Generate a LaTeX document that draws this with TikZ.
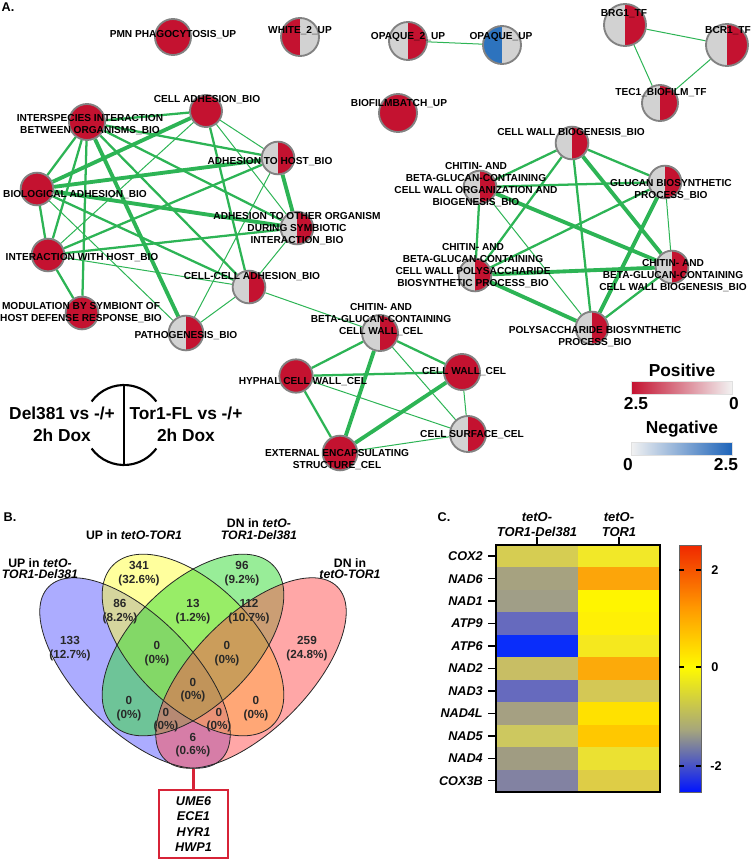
\documentclass[tikz,border=0pt]{standalone}
\usepackage{fontspec}
\setmainfont{Liberation Sans}
\usetikzlibrary{backgrounds}
\definecolor{nred}{RGB}{196,18,48}
\definecolor{ngrey}{RGB}{210,210,210}
\definecolor{nborder}{RGB}{130,130,130}
\definecolor{nblue}{RGB}{45,115,190}
\definecolor{egreen}{RGB}{45,180,85}
\definecolor{vblue}{RGB}{90,90,255}
\definecolor{vyellow}{RGB}{255,255,60}
\definecolor{vgreen}{RGB}{50,220,50}
\definecolor{vpink}{RGB}{255,80,80}
\definecolor{vtext}{RGB}{40,40,40}
\definecolor{boxred}{RGB}{215,35,55}
\definecolor{legblue}{RGB}{30,100,185}
\definecolor{legpale}{RGB}{242,242,242}
\definecolor{h0a}{RGB}{214,205,82}\definecolor{h0b}{RGB}{242,232,40}
\definecolor{h1a}{RGB}{166,162,128}\definecolor{h1b}{RGB}{252,165,10}
\definecolor{h2a}{RGB}{160,158,135}\definecolor{h2b}{RGB}{255,245,0}
\definecolor{h3a}{RGB}{102,106,190}\definecolor{h3b}{RGB}{255,240,5}
\definecolor{h4a}{RGB}{10,45,250}\definecolor{h4b}{RGB}{245,232,30}
\definecolor{h5a}{RGB}{200,190,100}\definecolor{h5b}{RGB}{252,170,10}
\definecolor{h6a}{RGB}{102,106,190}\definecolor{h6b}{RGB}{212,200,85}
\definecolor{h7a}{RGB}{165,160,130}\definecolor{h7b}{RGB}{255,225,0}
\definecolor{h8a}{RGB}{205,200,95}\definecolor{h8b}{RGB}{255,200,0}
\definecolor{h9a}{RGB}{160,156,130}\definecolor{h9b}{RGB}{235,225,50}
\definecolor{h10a}{RGB}{130,130,162}\definecolor{h10b}{RGB}{222,205,70}
\definecolor{cbred}{RGB}{240,40,0}
\definecolor{cborange}{RGB}{255,150,0}
\definecolor{cbyellow}{RGB}{255,250,0}
\definecolor{cbgrey}{RGB}{165,165,125}
\definecolor{cbblue}{RGB}{0,20,255}
\begin{document}
\begin{tikzpicture}[x=0.75pt,y=-0.75pt,
  netnode/.style={circle,inner sep=0pt,minimum size=#1,draw=nborder,line width=1.4pt,fill=ngrey},
  redfill/.style={fill=nred},
  halfR/.style={path picture={\fill[nred] (path picture bounding box.north) rectangle (path picture bounding box.south east);}},
  halfL/.style={path picture={\fill[nred] (path picture bounding box.north) rectangle (path picture bounding box.south west);}},
  blueL/.style={path picture={\fill[nblue] (path picture bounding box.north) rectangle (path picture bounding box.south west);}},
  lbl/.style={font=\fontsize{7.6}{9}\selectfont\bfseries,align=center,inner sep=0pt},
  ethin/.style={draw=egreen,line width=0.75pt},
  emed/.style={draw=egreen,line width=1.7pt},
  ethick/.style={draw=egreen,line width=2.9pt},
  plbl/.style={font=\fontsize{9.5}{11}\selectfont\bfseries,inner sep=0pt},
  leg/.style={font=\fontsize{13}{16.5}\selectfont\bfseries,align=center,inner sep=0pt},
  vlbl/.style={font=\fontsize{9.2}{8.8}\selectfont\bfseries,align=center,inner sep=0pt},
  vnum/.style={font=\fontsize{8.8}{10}\selectfont\bfseries,text=vtext,align=center,inner sep=0pt},
  hlbl/.style={font=\fontsize{9.5}{11}\selectfont\bfseries\itshape,inner sep=0pt},
  hhead/.style={font=\fontsize{9.7}{11.25}\selectfont\bfseries\itshape,align=center,inner sep=0pt},
  cbl/.style={font=\fontsize{9.5}{11}\selectfont\bfseries,inner sep=0pt},
  outerell/.style={x radius=122,y radius=57},
  innerell/.style={x radius=113,y radius=61}
]
\useasboundingbox (0,0) rectangle (750,860);

% ---------------- Panel A: nodes ----------------
\node[plbl] (pA) at (8,7) {A.};

\node[netnode=27pt,redfill] (pmn) at (173,37) {};
\node[netnode=28.5pt,halfL] (white) at (300,37) {};
\node[netnode=28.5pt,halfR] (opq2) at (408,41) {};
\node[netnode=28.5pt,blueL] (opq) at (502,45) {};
\node[netnode=31.5pt,halfR] (brg1) at (625,25) {};
\node[netnode=31.5pt,halfR] (bcr1) at (727,45) {};
\node[netnode=27pt,halfR] (tec1) at (660,103) {};
\node[netnode=28.5pt,redfill] (biofilm) at (398,113) {};

\node[netnode=24pt,redfill] (celladh) at (206,111) {};
\node[netnode=27pt,redfill] (inter) at (87,122) {};
\node[netnode=24.5pt,halfR] (adhhost) at (278,158) {};
\node[netnode=24.5pt,redfill] (bioadh) at (37,189) {};
\node[netnode=24.5pt,halfR] (adhother) at (297,228) {};
\node[netnode=24.5pt,redfill] (interhost) at (48,255) {};
\node[netnode=24.5pt,halfR] (cellcell) at (249,287) {};
\node[netnode=24.5pt,redfill] (modul) at (82,313) {};
\node[netnode=26pt,halfR] (patho) at (186,333) {};

\node[netnode=24.5pt,halfR] (cwb) at (572,143) {};
\node[netnode=24.5pt,halfR] (chorg) at (480,187) {};
\node[netnode=24.5pt,halfR] (glucan) at (665,182) {};
\node[netnode=24.5pt,halfR] (chpoly) at (475,275) {};
\node[netnode=24.5pt,halfR] (chbiog) at (672,267) {};
\node[netnode=24.5pt,halfR] (polys) at (592,328) {};

\node[netnode=27pt,halfR] (chcel) at (380,333) {};
\node[netnode=25pt,redfill] (hyphal) at (296,376) {};
\node[netnode=27pt,redfill] (cellwall) at (462,372) {};
\node[netnode=27pt,halfR] (cellsurf) at (468,434) {};
\node[netnode=26pt,redfill] (external) at (340,453) {};

% ---------------- Panel A: edges ----------------
\begin{scope}[on background layer]
\draw[ethin] (opq2) -- (opq);
\draw[ethin] (brg1) -- (bcr1);
\draw[ethin] (brg1) -- (tec1);
\draw[ethin] (bcr1) -- (tec1);
\foreach \a/\b/\s in {inter/celladh/emed, celladh/bioadh/ethick, celladh/interhost/ethin,
  celladh/adhhost/ethin, celladh/adhother/ethin, celladh/cellcell/emed,
  inter/adhhost/emed, inter/bioadh/emed, inter/interhost/emed, inter/modul/emed,
  inter/patho/ethick, inter/adhother/emed, inter/cellcell/emed,
  adhhost/bioadh/ethick, adhhost/interhost/emed, adhhost/adhother/ethick, adhhost/patho/ethin,
  bioadh/adhother/ethick, bioadh/interhost/emed, bioadh/cellcell/emed, bioadh/patho/ethin,
  interhost/adhother/emed, interhost/modul/emed, interhost/cellcell/ethin,
  adhother/cellcell/ethin, cellcell/patho/ethin, cellcell/chcel/ethin,
  cwb/chorg/emed, cwb/glucan/emed, cwb/chpoly/emed, cwb/polys/emed, cwb/chbiog/ethick,
  chorg/glucan/emed, chorg/chpoly/emed, chorg/chbiog/ethick, chorg/polys/ethin,
  glucan/chpoly/emed, glucan/chbiog/ethin, glucan/polys/ethick,
  chpoly/chbiog/ethick, chpoly/polys/ethick, chbiog/polys/emed,
  chcel/hyphal/emed, chcel/cellwall/emed, chcel/cellsurf/ethin, chcel/external/ethick,
  hyphal/cellwall/emed, hyphal/cellsurf/ethin, hyphal/external/emed,
  cellwall/external/ethick, cellwall/cellsurf/ethin, external/cellsurf/ethin}
  \draw[\s] (\a) -- (\b);
\end{scope}

% ---------------- Panel A: labels ----------------
\node[lbl] (Lpmn) at (173,35) {PMN PHAGOCYTOSIS\_UP};
\node[lbl] (Lwhite) at (300,31) {WHITE\_2\_UP};
\node[lbl] (Lopq2) at (408,37) {OPAQUE\_2\_UP};
\node[lbl] (Lopq) at (501,37) {OPAQUE\_UP};
\node[lbl] (Lbrg1) at (624,14) {BRG1\_TF};
\node[lbl] (Lbcr1) at (728,31) {BCR1\_TF};
\node[lbl] (Ltec1) at (661,93) {TEC1\_BIOFILM\_TF};
\node[lbl] (Lbiofilm) at (399,104) {BIOFILMBATCH\_UP};

\node[lbl] (Lcelladh) at (207,100) {CELL ADHESION\_BIO};
\node[lbl] (Linter) at (90,125) {INTERSPECIES INTERACTION\\BETWEEN ORGANISMS\_BIO};
\node[lbl] (Ladhhost) at (270,162) {ADHESION TO HOST\_BIO};
\node[lbl] (Lbioadh) at (75,195) {BIOLOGICAL ADHESION\_BIO};
\node[lbl] (Ladhother) at (297,228.5) {ADHESION TO OTHER ORGANISM\\DURING SYMBIOTIC\\INTERACTION\_BIO};
\node[lbl] (Linterhost) at (82,258) {INTERACTION WITH HOST\_BIO};
\node[lbl] (Lcellcell) at (252,277) {CELL-CELL ADHESION\_BIO};
\node[lbl] (Lmodul) at (81,312.5) {MODULATION BY SYMBIONT OF\\HOST DEFENSE RESPONSE\_BIO};
\node[lbl] (Lpatho) at (186,336) {PATHOGENESIS\_BIO};

\node[lbl] (Lcwb) at (571,133) {CELL WALL BIOGENESIS\_BIO};
\node[lbl] (Lchorg) at (476,185) {CHITIN- AND\\BETA-GLUCAN-CONTAINING\\CELL WALL ORGANIZATION AND\\BIOGENESIS\_BIO};
\node[lbl] (Lglucan) at (671,190) {GLUCAN BIOSYNTHETIC\\PROCESS\_BIO};
\node[lbl] (Lchpoly) at (473,266) {CHITIN- AND\\BETA-GLUCAN-CONTAINING\\CELL WALL POLYSACCHARIDE\\BIOSYNTHETIC PROCESS\_BIO};
\node[lbl] (Lchbiog) at (673,275.5) {CHITIN- AND\\BETA-GLUCAN-CONTAINING\\CELL WALL BIOGENESIS\_BIO};
\node[lbl] (Lpolys) at (595,337) {POLYSACCHARIDE BIOSYNTHETIC\\PROCESS\_BIO};

\node[lbl] (Lchcel) at (381,320) {CHITIN- AND\\BETA-GLUCAN-CONTAINING\\CELL WALL\_CEL};
\node[lbl] (Lhyphal) at (303,382) {HYPHAL CELL WALL\_CEL};
\node[lbl] (Lcellwall) at (464,372) {CELL WALL\_CEL};
\node[lbl] (Lcellsurf) at (472,435) {CELL SURFACE\_CEL};
\node[lbl] (Lexternal) at (337,460) {EXTERNAL ENCAPSULATING\\STRUCTURE\_CEL};

% ---------------- Panel A: legends ----------------
\node[leg] (dl) at (62,424) {Del381 vs -/+\\2h Dox};
\node[leg] (tl) at (186,424) {Tor1-FL vs -/+\\2h Dox};
\draw[line width=1.6pt] (124,385) -- (124,465);
\draw[line width=1.6pt] (91.6,401.5) arc[start angle=-144,end angle=-36,radius=40];
\draw[line width=1.6pt] (91.6,448.5) arc[start angle=144,end angle=36,radius=40];

\node[leg] (pos) at (682,370) {Positive};
\shade[left color=nred,right color=legpale,draw=black!12] (631,381) rectangle (732,394);
\node[leg] (p25) at (636,404) {2.5};
\node[leg] (p0) at (734,404) {0};
\node[leg] (neg) at (682,429) {Negative};
\shade[left color=legpale,right color=legblue,draw=black!12] (631,442) rectangle (732,455);
\node[leg] (n0) at (628,465) {0};
\node[leg] (n25) at (726,465) {2.5};

% ---------------- Panel B: Venn ----------------
\node[plbl] (pB) at (10,517) {B.};
\fill[vblue,fill opacity=0.5,rotate around={-45:(135,673)}] (135,673) ellipse [outerell];
\fill[vyellow,fill opacity=0.5,rotate around={-45:(193,645)}] (193,645) ellipse [innerell];
\fill[vgreen,fill opacity=0.5,rotate around={45:(193,645)}] (193,645) ellipse [innerell];
\fill[vpink,fill opacity=0.5,rotate around={45:(251,673)}] (251,673) ellipse [outerell];
\draw[black!85,line width=0.6pt,rotate around={-45:(135,673)}] (135,673) ellipse [outerell];
\draw[black!85,line width=0.6pt,rotate around={-45:(193,645)}] (193,645) ellipse [innerell];
\draw[black!85,line width=0.6pt,rotate around={45:(193,645)}] (193,645) ellipse [innerell];
\draw[black!85,line width=0.6pt,rotate around={45:(251,673)}] (251,673) ellipse [outerell];

\node[vlbl] (vlA) at (40,568.5) {UP in \textit{tetO-}\\\textit{TOR1-Del381}};
\node[vlbl] (vlB) at (134,535) {UP in \textit{tetO-TOR1}};
\node[vlbl] (vlC) at (259,529) {DN in \textit{tetO-}\\\textit{TOR1-Del381}};
\node[vlbl] (vlD) at (350,568.5) {DN in\\\textit{tetO-TOR1}};

\node[vnum] (v341) at (139,573.5) {341\\(32.6\%)};
\node[vnum] (v96) at (242,573.5) {96\\(9.2\%)};
\node[vnum] (v86) at (120,611.5) {86\\(8.2\%)};
\node[vnum] (v13) at (193,611.5) {13\\(1.2\%)};
\node[vnum] (v112) at (249,611.5) {112\\(10.7\%)};
\node[vnum] (v133) at (70,648.5) {133\\(12.7\%)};
\node[vnum] (v0a) at (157,653.5) {0\\(0\%)};
\node[vnum] (v0b) at (227,653.5) {0\\(0\%)};
\node[vnum] (v259) at (307,648.5) {259\\(24.8\%)};
\node[vnum] (v0c) at (129,708.5) {0\\(0\%)};
\node[vnum] (v0d) at (193,690) {0\\(0\%)};
\node[vnum] (v0e) at (166,720) {0\\(0\%)};
\node[vnum] (v0f) at (219,720) {0\\(0\%)};
\node[vnum] (v0g) at (256,708.5) {0\\(0\%)};
\node[vnum] (v6) at (193,745) {6\\(0.6\%)};

\coordinate (vbot) at (193.5,768.5);
\node[draw=boxred,line width=1.3pt,minimum width=51.75pt,minimum height=51pt,align=center,
  font=\fontsize{9.5}{11.5}\selectfont\bfseries\itshape,inner sep=0pt] (genes) at (193.5,824)
  {UME6\\ECE1\\HYR1\\HWP1};
\draw[boxred,line width=1.6pt] (vbot) -- (genes.north);

% ---------------- Panel C: heatmap ----------------
\node[plbl] (pC) at (444,517) {C.};
\node[hhead] (c1) at (537,524.5) {tetO-\\TOR1-Del381};
\node[hhead] (c2) at (619,524.5) {tetO-\\TOR1};
\foreach \i/\g in {0/COX2,1/NAD6,2/NAD1,3/ATP9,4/ATP6,5/NAD2,6/NAD3,7/NAD4L,8/NAD5,9/NAD4,10/COX3B}{
  \fill[h\i a] (496,{545+\i*22.45}) rectangle (578,{545+(\i+1)*22.45});
  \fill[h\i b] (578,{545+\i*22.45}) rectangle (660,{545+(\i+1)*22.45});
  \node[hlbl,anchor=east] (g\i) at (483,{545+(\i+0.5)*22.45}) {\g};
  \draw[line width=1.1pt] (488,{545+(\i+0.5)*22.45}) -- (496,{545+(\i+0.5)*22.45});
}
\draw[line width=1.2pt] (496,545) rectangle (660,792);
\draw[line width=1.1pt] (537,537) -- (537,545);
\draw[line width=1.1pt] (619,537) -- (619,545);

\shade[top color=cbred,bottom color=cborange] (679,545) rectangle (701,606.5);
\shade[top color=cborange,bottom color=cbyellow] (679,606) rectangle (701,667.5);
\shade[top color=cbyellow,bottom color=cbgrey] (679,667) rectangle (701,730.5);
\shade[top color=cbgrey,bottom color=cbblue] (679,730) rectangle (701,792);
\draw[line width=0.5pt,black!60] (679,545) rectangle (701,792);
\foreach \yy in {570,667,766}{
  \draw[line width=1pt] (679,\yy) -- (684,\yy);
  \draw[line width=1pt] (696,\yy) -- (701,\yy);
}
\node[cbl] (t2) at (715,570) {2};
\node[cbl] (t0) at (715,667) {0};
\node[cbl] (tm2) at (716,766) {-2};
\end{tikzpicture}
\end{document}
